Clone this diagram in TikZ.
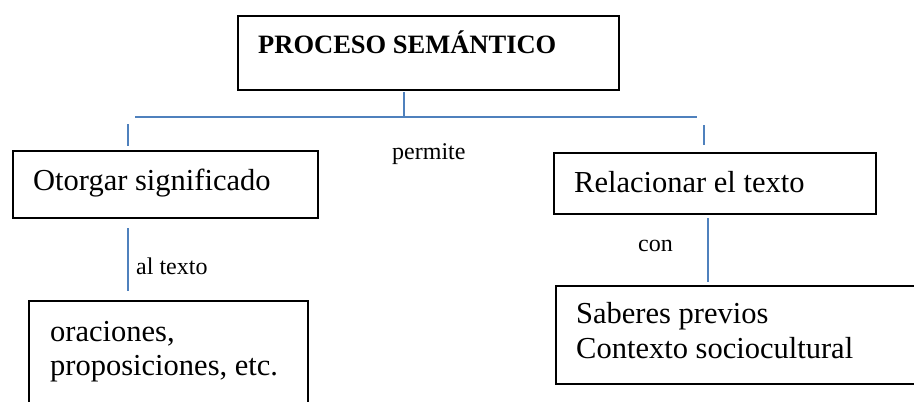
\documentclass[tikz,border=0pt]{standalone}
\usepackage{fontspec}
\setmainfont{Liberation Serif}
\definecolor{azul}{RGB}{79,129,189}
\tikzset{
  caja/.style={draw=black, line width=2pt, inner sep=0pt, anchor=north west},
  enlace/.style={draw=azul, line width=2pt},
  texto/.style={inner sep=0pt, anchor=base west, font=\fontsize{30.5}{35}\selectfont},
  etiqueta/.style={inner sep=0pt, anchor=base west, font=\fontsize{24}{28}\selectfont}
}
\begin{document}
\begin{tikzpicture}[x=1pt, y=-1pt]
		\useasboundingbox (0,0) rectangle (914,402);
		\clip (0,0) rectangle (914,402);
		
		\node[caja, line width=2.4pt, minimum width=381, minimum height=74] (titulo) at (237,15) {};
		\node[caja, minimum width=305, minimum height=67] (otorgar) at (12,150) {};
		\node[caja, minimum width=322, minimum height=61] (relacionar) at (553,152) {};
		\node[caja, minimum width=279, minimum height=130] (oraciones) at (28,300) {};
		\node[caja, minimum width=375, minimum height=98] (saberes) at (555,285) {};
		
		\node[texto, font=\bfseries\fontsize{26.5}{30}\selectfont] (tTitulo) at (258,53) {PROCESO SEMÁNTICO};
		\node[texto] (tOtorgar) at (33,190) {Otorgar significado};
		\node[texto] (tRelacionar) at (574,192) {Relacionar el texto};
		\node[texto] (tOraciones) at (50,341) {oraciones,};
		\node[texto] (tProposiciones) at (50,375) {proposiciones, etc.};
		\node[texto] (tSaberes) at (576,323) {Saberes previos};
		\node[texto] (tContexto) at (576,358) {Contexto sociocultural};
		
		\node[etiqueta] (permite) at (392,159) {permite};
		\node[etiqueta] (alTexto) at (136,274) {al texto};
		\node[etiqueta] (con) at (638,251) {con};
		
		\coordinate (T1) at (404,92);
		\coordinate (T2) at (404,117);
		\coordinate (H1) at (135,117);
		\coordinate (H2) at (697,117);
		\coordinate (I1) at (128,124);
		\coordinate (I2) at (128,146);
		\coordinate (D1) at (704,125);
		\coordinate (D2) at (704,145);
		\coordinate (A1) at (128,228);
		\coordinate (A2) at (128,291);
		\coordinate (C1) at (708,218);
		\coordinate (C2) at (708,282);
		
		\draw[enlace] (T1) -- (T2);
		\draw[enlace] (H1) -- (H2);
		\draw[enlace] (I1) -- (I2);
		\draw[enlace] (D1) -- (D2);
		\draw[enlace] (A1) -- (A2);
		\draw[enlace] (C1) -- (C2);
\end{tikzpicture}
\end{document}
